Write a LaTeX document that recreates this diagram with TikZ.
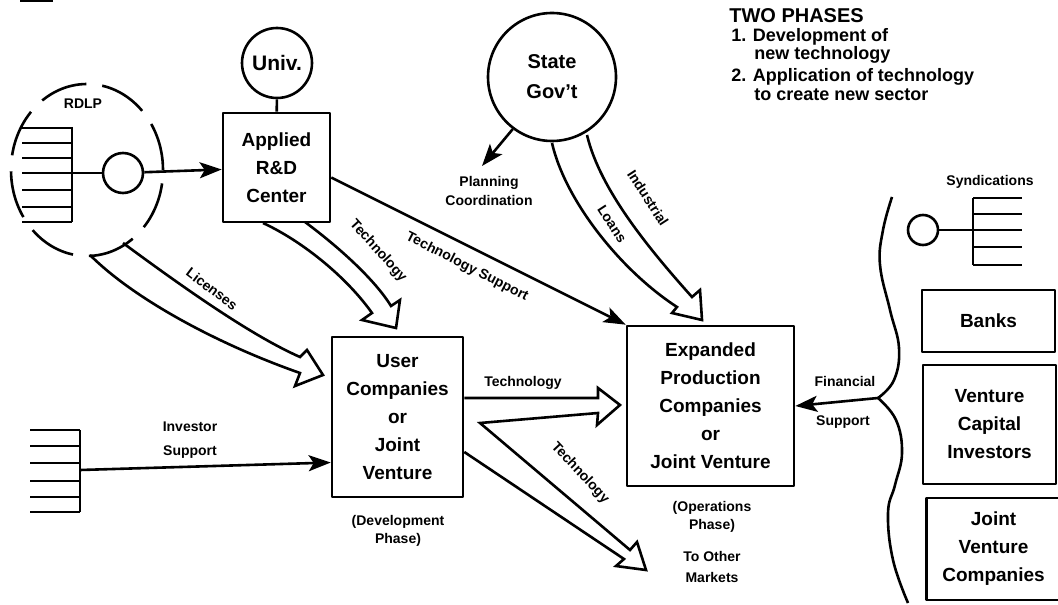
\documentclass[tikz,border=0pt]{standalone}
\usepackage{fontspec}
\setmainfont{Liberation Sans}
\usetikzlibrary{arrows.meta,shapes.geometric,calc}
\newcommand\boxfont{\fontsize{9.5}{14}\selectfont\bfseries}
\newcommand\labfont{\fontsize{7}{9.5}\selectfont\bfseries}
\newcommand\legfont{\fontsize{9}{11}\selectfont\bfseries}

\begin{document}
\begin{tikzpicture}[x=0.5pt,y=-0.5pt, line width=1.3pt, line join=round,
  box/.style={draw, rectangle, align=center, font=\boxfont, inner sep=0pt},
  ring/.style={draw, circle, align=center, font=\boxfont, inner sep=0pt},
  lbl/.style={font=\labfont, align=center, inner sep=0pt},
  tip/.style={-{Stealth[length=11pt,width=8pt,inset=2.5pt]}},
  fat/.style={line join=miter, miter limit=6},
]
\useasboundingbox (0,0) rectangle (1058,604);

% stray rule in the corner
\draw[line width=1.5pt] (20,1) -- (53,1);

% ---------------- RDLP cluster ----------------
\node[draw, ellipse, dash pattern=on 24pt off 8pt, minimum width=76pt,
      minimum height=86pt, inner sep=0pt] (rdlp) at (87,170) {};
\node[lbl] (rdlplab) at (83,104) {RDLP};
\draw (72,127) -- (72,222);
\foreach \yy in {128,143,158,173,190,207,222} \draw (22,\yy) -- (72,\yy);
\coordinate (bus1) at (72,173);
\node[ring, minimum size=20pt] (c1) at (123,173) {};
\draw (bus1) -- (c1);

% ---------------- university and R&D centre ----------------
\node[ring, minimum size=35pt, font=\fontsize{10.5}{12}\selectfont\bfseries] (univ) at (277,63) {Univ.};
\node[box, minimum width=53.5pt, minimum height=54.5pt] (rd) at (276.5,167.5) {Applied\\R\&D\\Center};
\draw (univ) -- (rd);
\draw[tip] (c1) -- (rd);

% ---------------- state government ----------------
\node[ring, minimum size=64pt, font=\fontsize{10}{15}\selectfont\bfseries] (state) at (552,77) {State\\Gov't};
\coordinate (plan) at (482,166);
\draw[tip] (state.-127) -- (plan);
\node[lbl] (planlab) at (489,191) {Planning\\Coordination};

% ---------------- companies ----------------
\node[box, minimum width=65.5pt, minimum height=80pt] (user) at (397.5,417)
  {User\\Companies\\or\\Joint\\Venture};
\node[lbl, font=\fontsize{7}{9}\selectfont\bfseries] (devlab) at (398,531) {(Development\\Phase)};

\node[box, minimum width=83.5pt, minimum height=80pt] (exp) at (710.5,406)
  {Expanded\\Production\\Companies\\or\\Joint Venture};
\node[lbl, font=\fontsize{7}{9}\selectfont\bfseries] (opslab) at (712,517) {(Operations\\Phase)};
\node[lbl, font=\fontsize{7}{10.5}\selectfont\bfseries] (mktlab) at (712,567) {To Other\\Markets};

% ---------------- investor bus ----------------
\draw (80,430) -- (80,512);
\foreach \yy in {430,446,463,481,497,512} \draw (30,\yy) -- (80,\yy);
\coordinate (bus2) at (80,470);
\draw[tip] (bus2) -- ($(user.south west)!0.22!(user.north west)$);
\node[lbl] (invlab) at (190,440) {Investor\\[2.5pt]Support};

% ---------------- technology support ----------------
\draw[tip] ($(rd.north east)!0.59!(rd.south east)$) -- (exp.north west);
\node[lbl, rotate=-27] (tslab) at (467,267) {Technology Support};

% ---------------- hollow arrows ----------------
% licenses
\draw[fat] (123,243) .. controls (180,285) and (250,335) .. (300,357)
  -- (307,350) -- (323,375) -- (295,386) -- (300,373)
  .. controls (220,345) and (135,300) .. (90,255);
\node[lbl, rotate=-37] (liclab) at (212,289) {Licenses};

% technology from R&D centre
\draw[fat] (263,223) .. controls (300,240) and (345,275) .. (372,313)
  -- (362,320) -- (396,328) -- (400,300) -- (391,306)
  .. controls (375,280) and (340,248) .. (305,222);
\node[lbl, rotate=-48] (techlab1) at (378,251) {Technology};

% industrial loans
\draw[fat] (552,143) .. controls (565,200) and (620,270) .. (677,307)
  -- (672,313) -- (702,320) -- (700,290) -- (692,297)
  .. controls (650,250) and (600,190) .. (587,135);
\node[lbl, rotate=-57] (indlab) at (648,198) {Industrial};
\node[lbl, rotate=-57] (loanlab) at (612,224) {Loans};

% technology onward: to the expanded companies and to other markets
\draw[fat] (user.east |- 0,398) -- (598,398) -- (598,388) -- (620,405)
  -- (597,425) -- (598,413) -- (480,423) -- (630,550) -- (637,542)
  -- (646,570) -- (616,566) -- (624,559) -- (user.east |- 0,452);
\node[lbl] (techlab2) at (523,383) {Technology};
\node[lbl, rotate=-47] (techlab3) at (580,473) {Technology};

% ---------------- financial side ----------------
\coordinate (cusp) at (878,398);
\draw plot[smooth, tension=0.7] coordinates
  {(892,197) (883,230) (880,265) (890,310) (899,348) (894,380) (cusp)};
\draw plot[smooth, tension=0.7] coordinates
  {(cusp) (896,420) (902,453) (895,485) (888,513) (893,560) (908,603)};
\draw[tip] (cusp) -- (exp.east);
\node[lbl] (finlab) at (845,381) {Financial};
\node[lbl] (suplab) at (843,422) {Support};

\node[ring, minimum size=15pt] (c2) at (923,230) {};
\coordinate (bus3) at (973,230);
\draw (c2) -- (bus3);
\draw (973,198) -- (973,265);
\foreach \yy in {198,214,230,247,265} \draw (973,\yy) -- (1022,\yy);
\node[lbl] (synlab) at (990,182) {Syndications};

\node[box, minimum width=66.5pt, minimum height=31pt] (banks) at (988.5,321) {Banks};
\node[box, minimum width=66.5pt, minimum height=59.5pt] (vc) at (989.5,424.5) {Venture\\Capital\\Investors};
\node[box, minimum width=67pt, minimum height=51pt] (jv) at (993.5,549) {Joint\\Venture\\Companies};

% ---------------- legend ----------------
\node[anchor=west, inner sep=0pt, font=\fontsize{10}{12}\selectfont\bfseries] (legh) at (728,16) {TWO PHASES};
\node[anchor=west, inner sep=0pt, font=\legfont] (leg1) at (730,37) {1. Development of};
\node[anchor=west, inner sep=0pt, font=\legfont] (leg1b) at (753,55) {new technology};
\node[anchor=west, inner sep=0pt, font=\legfont] (leg2) at (730,77) {2. Application of technology};
\node[anchor=west, inner sep=0pt, font=\legfont] (leg2b) at (753,95) {to create new sector};
\end{tikzpicture}
\end{document}
